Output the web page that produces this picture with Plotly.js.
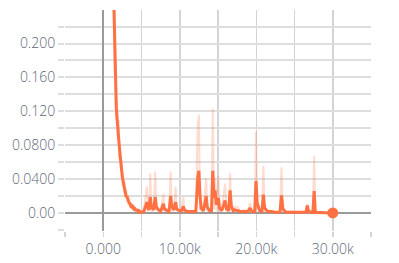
<!DOCTYPE html>
<html>
<head>
<meta charset="utf-8">
<script src="https://cdn.plot.ly/plotly-3.0.1.min.js"></script>
<style>html,body{margin:0;padding:0;background:#fff;}#chart{width:399px;height:263px;}</style>
</head>
<body>
<div id="chart"></div>
<script>
// steps (training iterations)
const steps = [500,1000,1100,1200,1300,1400,1500,1600,1700,1800,1900,2000,2100,2200,2300,2400,2500,2600,2700,2800,2900,3000,3100,3200,3300,3400,3500,3600,3700,3800,3900,4000,4100,4200,4300,4400,4500,4600,4700,4800,4900,5000,
 5300,5700,5850,6000,6140,6300,6600,6790,6950,7200,7500,7870,8000,8300,8600,8810,8950,9200,9460,9600,9900,10200,10480,10600,10900,11300,11700,12100,12360,12500,12650,12800,13100,13450,13600,13900,14150,14320,14470,14620,14780,15050,15200,15500,15930,16100,16400,16580,16750,17000,17230,17580,17900,18400,18900,19190,19400,19800,19970,20120,20270,20450,20750,20930,21100,21500,22000,22500,23100,23300,23480,23900,24600,25300,26000,26500,26670,26850,27400,27570,27720,28300,29000,30000];
// raw loss values
const rawLoss = [0.60,0.32,0.29,0.25,0.28,0.21,0.16,0.18,0.11,0.135,0.085,0.11,0.065,0.08,0.05,0.062,0.032,0.048,0.024,0.036,0.018,0.028,0.013,0.022,0.009,0.018,0.007,0.013,0.005,0.011,0.004,0.008,0.002,0.007,0.001,0.005,0.001,0.004,0.000,0.003,0.000,0.002,
 0.004,0.031,0.003,0.005,0.047,0.002,0.004,0.049,0.003,0.006,0.001,0.023,0.002,0.005,0.002,0.049,0.004,0.002,0.031,0.003,0.002,0.004,0.019,0.002,0.004,0.001,0.003,0.002,0.106,0.116,0.004,0.003,0.002,0.041,0.003,0.002,0.004,0.123,0.005,0.041,0.003,0.044,0.002,0.004,0.035,0.003,0.002,0.047,0.003,0.002,0.008,0.007,0.002,0.003,0.002,0.012,0.002,0.002,0.096,0.004,0.009,0.002,0.003,0.056,0.002,0.002,0.003,0.001,0.002,0.054,0.002,0.001,0.002,0.001,0.001,0.002,0.011,0.001,0.001,0.067,0.001,0.0005,0.0005,0.0003];
// smoothed loss values
const smoothLoss = [0.60,0.40,0.34,0.30,0.265,0.245,0.20,0.15,0.125,0.112,0.098,0.094,0.075,0.068,0.060,0.048,0.042,0.038,0.030,0.028,0.024,0.019,0.020,0.015,0.014,0.012,0.011,0.0085,0.009,0.007,0.0075,0.005,0.0055,0.004,0.0035,0.003,0.0035,0.002,0.0025,0.001,0.0015,0.001,
 0.002,0.013,0.006,0.004,0.019,0.007,0.004,0.019,0.007,0.004,0.002,0.011,0.005,0.003,0.002,0.02,0.008,0.004,0.013,0.005,0.003,0.002,0.008,0.004,0.002,0.002,0.002,0.002,0.042,0.05,0.02,0.006,0.003,0.02,0.007,0.003,0.003,0.05,0.018,0.027,0.01,0.018,0.006,0.003,0.015,0.005,0.003,0.027,0.008,0.003,0.004,0.003,0.002,0.002,0.002,0.006,0.002,0.002,0.038,0.012,0.007,0.003,0.002,0.022,0.006,0.002,0.002,0.001,0.001,0.021,0.005,0.001,0.001,0.001,0.001,0.001,0.009,0.002,0.001,0.026,0.001,0.0005,0.0005,0.0003];
const lastStep = [30000];
const lastValue = [0.0003];
const yTickVals = [-0.02,0,0.02,0.04,0.06,0.08,0.10,0.12,0.14,0.16,0.18,0.20,0.22,0.24];
const yTickText = ['','0.00','','0.0400','','0.0800','','0.120','','0.160','','0.200','',''];
const xTickVals = [-5000,0,5000,10000,15000,20000,25000,30000,35000];
const xTickText = ['','0.000','','10.00k','','20.00k','','30.00k',''];

const orange = '#ff7043';
const traces = [
  {x: steps, y: rawLoss, type: 'scatter', mode: 'lines', line: {color: 'rgba(255,112,67,0.25)', width: 2}, hoverinfo: 'skip'},
  {x: steps, y: smoothLoss, type: 'scatter', mode: 'lines', line: {color: orange, width: 3}},
  {x: lastStep, y: lastValue, type: 'scatter', mode: 'markers', marker: {color: orange, size: 11}, cliponaxis: false}
];
const tickFont = {family: '"Open Sans", sans-serif', size: 14, color: '#5d6778', weight: 300};
const layout = {
  width: 399, height: 263,
  margin: {l: 65, r: 28, t: 10, b: 32},
  paper_bgcolor: '#fff', plot_bgcolor: '#fff',
  showlegend: false,
  xaxis: {
    range: [-5000, 35000], tickvals: xTickVals, ticktext: xTickText,
    showgrid: true, gridcolor: '#d4d4d4', gridwidth: 1.5,
    zeroline: true, zerolinecolor: '#9a9a9a', zerolinewidth: 2,
    ticks: 'outside', ticklen: 5, tickcolor: '#d4d4d4', tickwidth: 1.5,
    showline: false, tickfont: tickFont, fixedrange: true
  },
  yaxis: {
    range: [-0.021, 0.2395], tickvals: yTickVals, ticktext: yTickText,
    showgrid: true, gridcolor: '#dedede', gridwidth: 2,
    zeroline: true, zerolinecolor: '#9a9a9a', zerolinewidth: 2,
    ticks: 'outside', ticklen: 6, tickcolor: '#dedede', tickwidth: 2,
    showline: false, tickfont: tickFont, fixedrange: true
  }
};
Plotly.newPlot('chart', traces, layout, {staticPlot: true, displayModeBar: false});
</script>
</body>
</html>
